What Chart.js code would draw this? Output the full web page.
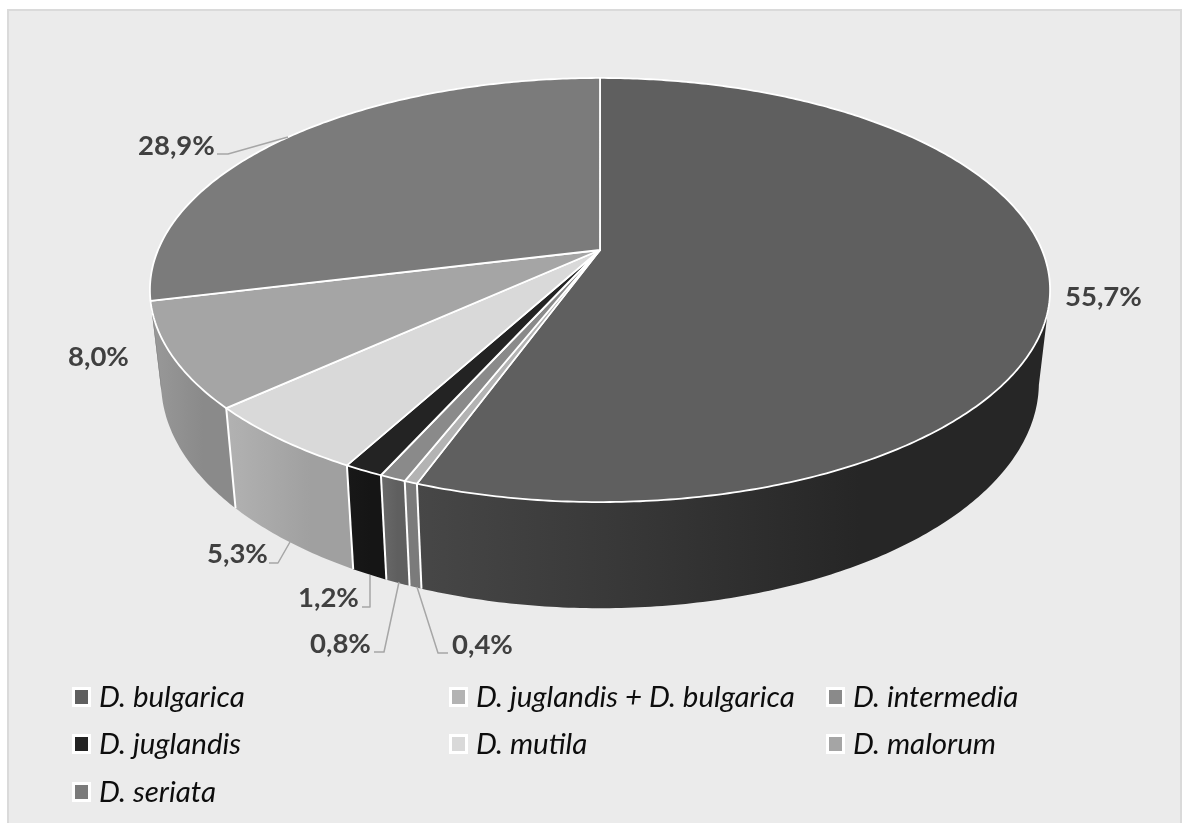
<!DOCTYPE html>
<html>
<head>
<meta charset="utf-8">
<title>Diplodia</title>
<script src="https://cdn.jsdelivr.net/npm/chart.js@4"></script>
<style>
  html, body { margin: 0; padding: 0; background: #fff; overflow: hidden; }
  #frame { position: absolute; left: 7px; top: 9px; width: 1171px; height: 830px; background: #ebebeb; border: 2px solid #dadada; }
  #grafico { position: absolute; left: 0; top: 0; }
</style>
</head>
<body>
<div id="frame"></div>
<canvas id="grafico" width="1187" height="823"></canvas>
<script>
// datos
const especies = ['D. bulgarica', 'D. juglandis + D. bulgarica', 'D. intermedia', 'D. juglandis', 'D. mutila', 'D. malorum', 'D. seriata'];
const porcentajes = [55.7, 0.4, 0.8, 1.2, 5.3, 8.0, 28.9];

// colores
const colorTapa = ['#5f5f5f', '#b3b3b3', '#8a8a8a', '#232323', '#d9d9d9', '#a5a5a5', '#7b7b7b'];
const colorLateralIzq = ['#474747', '#7b7b7b', '#6a6a6a', '#181818', '#b2b2b2', '#999999', '#7b7b7b'];
const colorLateralDer = ['#262626', '#7b7b7b', '#5f5f5f', '#151515', '#a0a0a0', '#8a8a8a', '#7b7b7b'];

// perspectiva de la tarta: cara superior e inferior
const tapa = { cx: 600, cy: 250, a: 442, b: 204.5, k: -0.1887 };
const base = { cx: 600, cy: 340, a: 431, b: 217.6, k: -0.1887 };

// etiquetas: posicion del texto y linea guia
const posEtiqueta = [
  { x: 1065, y: 306, guia: [] },
  { x: 452, y: 654, guia: [[448, 653], [438, 653], [417, 587]] },
  { x: 310, y: 653, guia: [[374, 652], [384, 652], [399, 582]] },
  { x: 298, y: 607, guia: [[362, 607], [370, 607], [370, 575]] },
  { x: 207, y: 563, guia: [[269, 563], [278, 563], [290, 542]] },
  { x: 68, y: 366, guia: [] },
  { x: 138, y: 155, guia: [[217, 154], [228, 154], [288, 137]] }
];

// leyenda
const posLeyenda = [
  { x: 75, y: 697 }, { x: 452, y: 697 }, { x: 829, y: 697 },
  { x: 75, y: 744 }, { x: 452, y: 744 }, { x: 829, y: 744 },
  { x: 75, y: 792 }
];

function proyecta(p, ang) {
  const u = Math.cos(ang), v = Math.sin(ang);
  const d = 1 + p.k * v;
  return [p.cx + p.a * u / d, p.cy + p.b * v / d];
}

function borde(ctx, p, desde, hasta, primero) {
  const pasos = Math.max(2, Math.ceil(Math.abs(hasta - desde) * 90));
  for (let i = 0; i <= pasos; i++) {
    const q = proyecta(p, desde + (hasta - desde) * i / pasos);
    if (i === 0 && primero) ctx.moveTo(q[0], q[1]);
    else ctx.lineTo(q[0], q[1]);
  }
}

const tarta3d = {
  id: 'tarta3d',
  beforeDatasetDraw(chart) {
    const ctx = chart.ctx;
    const arcos = chart.getDatasetMeta(0).data;
    // angulos donde la generatriz coincide con el contorno
    const visibleDesde = 0.2, visibleHasta = Math.PI - 0.2;

    // laterales
    arcos.forEach((arco, i) => {
      const a0 = Math.max(arco.startAngle, visibleDesde);
      const a1 = Math.min(arco.endAngle, visibleHasta);
      if (a1 <= a0) return;
      const xs = [proyecta(tapa, a0)[0], proyecta(tapa, a1)[0]];
      const g = ctx.createLinearGradient(Math.min(xs[0], xs[1]), 0, Math.max(xs[0], xs[1]), 0);
      g.addColorStop(0, colorLateralIzq[i]);
      g.addColorStop(0.7, colorLateralDer[i]);
      g.addColorStop(1, colorLateralDer[i]);
      ctx.beginPath();
      borde(ctx, tapa, a0, a1, true);
      borde(ctx, base, a1, a0, false);
      ctx.closePath();
      ctx.fillStyle = g;
      ctx.fill();
    });

    // separaciones del lateral (la ultima queda justo en el contorno, no se marca)
    ctx.strokeStyle = '#ffffff';
    ctx.lineWidth = 2;
    arcos.forEach((arco) => {
      const a = arco.endAngle;
      if (a < visibleDesde || a > visibleHasta - 0.1) return;
      const p1 = proyecta(tapa, a), p2 = proyecta(base, a);
      ctx.beginPath();
      ctx.moveTo(p1[0], p1[1]);
      ctx.lineTo(p2[0], p2[1]);
      ctx.stroke();
    });

    // cara superior
    arcos.forEach((arco, i) => {
      ctx.beginPath();
      ctx.moveTo(tapa.cx, tapa.cy);
      borde(ctx, tapa, arco.startAngle, arco.endAngle, false);
      ctx.closePath();
      ctx.fillStyle = colorTapa[i];
      ctx.fill();
      ctx.strokeStyle = '#ffffff';
      ctx.lineWidth = 1.8;
      ctx.lineJoin = 'round';
      ctx.stroke();
    });
    return false;
  },
  afterDraw(chart) {
    const ctx = chart.ctx;
    // lineas guia y porcentajes
    ctx.textBaseline = 'alphabetic';
    ctx.textAlign = 'left';
    porcentajes.forEach((valor, i) => {
      const pos = posEtiqueta[i];
      if (pos.guia.length) {
        ctx.beginPath();
        pos.guia.forEach((q, n) => n ? ctx.lineTo(q[0], q[1]) : ctx.moveTo(q[0], q[1]));
        ctx.strokeStyle = '#a6a6a6';
        ctx.lineWidth = 1.5;
        ctx.stroke();
      }
      ctx.font = 'bold 27.5px Lato';
      ctx.fillStyle = '#404040';
      ctx.fillText(valor.toFixed(1).replace('.', ',') + '%', pos.x, pos.y);
    });
    // leyenda
    especies.forEach((nombre, i) => {
      const pos = posLeyenda[i];
      ctx.fillStyle = '#ffffff';
      ctx.fillRect(pos.x - 3, pos.y - 10, 19, 20);
      ctx.fillStyle = colorTapa[i];
      ctx.fillRect(pos.x, pos.y - 7, 13, 14);
      ctx.font = 'italic 29.5px Lato';
      ctx.fillStyle = '#0d0d0d';
      ctx.fillText(nombre, pos.x + 24, pos.y + 10);
    });
  }
};

const grafico = new Chart(document.getElementById('grafico'), {
  type: 'pie',
  data: {
    labels: especies,
    datasets: [{
      data: porcentajes,
      backgroundColor: colorTapa
    }]
  },
  options: {
    responsive: false,
    animation: false,
    plugins: {
      legend: { display: false },
      tooltip: { enabled: false }
    }
  },
  plugins: [tarta3d]
});
</script>
</body>
</html>
